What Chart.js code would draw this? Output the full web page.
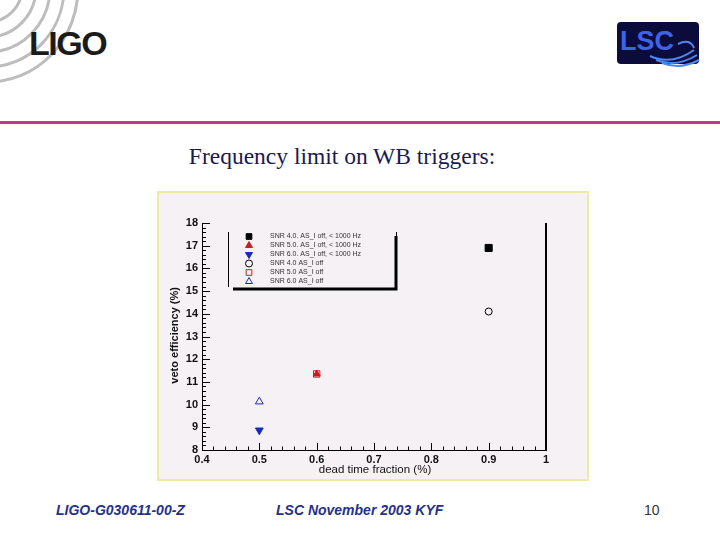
<!DOCTYPE html>
<html>
<head>
<meta charset="utf-8">
<script src="https://cdn.jsdelivr.net/npm/chart.js@4/dist/chart.umd.min.js"></script>
<style>
  html, body { margin: 0; padding: 0; background: #fff; }
  #slide { position: relative; width: 720px; height: 540px; overflow: hidden; font-family: "Liberation Sans", Arial, sans-serif; }
  #rule { position: absolute; left: 0; top: 121px; width: 720px; height: 3px; background: #c4368c; }
  #title { position: absolute; left: 0; width: 684px; top: 143px; text-align: center; font-family: "Liberation Serif", "Times New Roman", serif; font-size: 23.5px; color: #1a1a50; }
  #box { position: absolute; left: 157px; top: 191px; width: 428px; height: 286px; border: 2px solid #efe9a6; background: #f6f1f5; }
  #box canvas { position: absolute; left: 0; top: 0; }
  .foot { position: absolute; top: 502px; font-size: 14px; font-style: italic; font-weight: bold; color: #24318c; }
  #page { position: absolute; top: 502px; left: 644px; font-size: 14px; color: #333; }
</style>
</head>
<body>
<div id="slide">
  <svg width="720" height="120" style="position:absolute;left:0;top:0">
    <g fill="none" stroke="#bdbdbd" stroke-width="3">
      <ellipse cx="-12" cy="-12" rx="34" ry="34"/>
      <ellipse cx="-12" cy="-12" rx="48" ry="49"/>
      <ellipse cx="-12" cy="-12" rx="62" ry="64"/>
      <ellipse cx="-12" cy="-12" rx="76" ry="79"/>
      <ellipse cx="-12" cy="-12" rx="90" ry="94"/>
    </g>
    <text x="29" y="55" font-family="Liberation Sans Narrow, Liberation Sans, Arial" font-weight="bold" font-size="34" fill="#1b1b1b" letter-spacing="-1.5">LIGO</text>
    <rect x="617" y="22" width="82" height="42" rx="4" fill="#0b0b3c"/>
    <text x="620" y="50" font-family="Liberation Sans, Arial" font-weight="bold" font-size="27" fill="#3f63e6">LSC</text>
    <g fill="none" stroke="#4c86f0" stroke-width="2">
      <path d="M650 56 Q672 66 694 50"/>
      <path d="M656 60 Q676 68 697 55"/>
      <path d="M662 63 Q680 70 699 60"/>
      <path d="M678 44 Q690 38 694 48"/>
    </g>
  </svg>
  <div id="rule"></div>
  <div id="title">Frequency limit on WB triggers:</div>
  <div id="box"><canvas id="veto" width="428" height="286"></canvas></div>
  <div class="foot" style="left:56px">LIGO-G030611-00-Z</div>
  <div class="foot" style="left:276px">LSC November 2003 KYF</div>
  <div id="page">10</div>
</div>
<script>
// values
const seriesLabels = [
  'SNR 4.0. AS_I off, < 1000 Hz',
  'SNR 5.0. AS_I off, < 1000 Hz',
  'SNR 6.0. AS_I off, < 1000 Hz',
  'SNR 4.0 AS_I off',
  'SNR 5.0 AS_I off',
  'SNR 6.0 AS_I off'
];
const deadTime = [0.9, 0.6, 0.5, 0.9, 0.6, 0.5];
const vetoEff = [16.9, 11.35, 8.87, 14.1, 11.35, 10.13];
const xTicks = [0.4, 0.5, 0.6, 0.7, 0.8, 0.9, 1];
const yTicks = [8, 9, 10, 11, 12, 13, 14, 15, 16, 17, 18];

const markers = [
  { style: 'rect', rot: 0, color: '#000', fill: true, r: 5 },
  { style: 'triangle', rot: 0, color: '#c81e1e', fill: true, r: 4 },
  { style: 'triangle', rot: 180, color: '#1a2ab8', fill: true, r: 4.5 },
  { style: 'circle', rot: 0, color: '#000', fill: false, r: 3.5 },
  { style: 'rect', rot: 0, color: '#c81e1e', fill: false, r: 4.5 },
  { style: 'triangle', rot: 0, color: '#1a2ab8', fill: false, r: 4.5 }
];

const datasets = seriesLabels.map((label, i) => ({
  label: label,
  data: [{ x: deadTime[i], y: vetoEff[i] }],
  pointStyle: markers[i].style,
  rotation: markers[i].rot,
  pointRadius: markers[i].r,
  borderColor: markers[i].color,
  backgroundColor: markers[i].fill ? markers[i].color : 'rgba(0,0,0,0)',
  borderWidth: 1
}));

const frame = {
  id: 'frame',
  afterDraw(chart) {
    const ctx = chart.ctx;
    const xs = chart.scales.x, ys = chart.scales.y;
    const L = xs.left, R = xs.right, T = ys.top, B = ys.bottom;
    ctx.save();
    ctx.strokeStyle = '#000';
    ctx.lineWidth = 1;
    ctx.beginPath();
    ctx.moveTo(L + 0.5, T); ctx.lineTo(L + 0.5, B + 0.5); ctx.lineTo(R, B + 0.5);
    ctx.stroke();
    ctx.lineWidth = 2;
    ctx.beginPath();
    ctx.moveTo(R, T); ctx.lineTo(R, B + 1);
    ctx.stroke();
    ctx.lineWidth = 1;
    // x ticks
    ctx.beginPath();
    for (let k = 0; k <= 30; k++) {
      const v = 0.4 + k * 0.02;
      const px = Math.round(xs.getPixelForValue(v)) + 0.5;
      const len = k % 5 === 0 ? 7 : 3.5;
      ctx.moveTo(px, B); ctx.lineTo(px, B - len);
    }
    // y ticks
    for (let k = 0; k <= 50; k++) {
      const v = 8 + k * 0.2;
      const py = Math.round(ys.getPixelForValue(v)) + 0.5;
      const len = k % 5 === 0 ? 8 : 4;
      ctx.moveTo(L, py); ctx.lineTo(L + len, py);
    }
    ctx.stroke();

    // axis titles
    ctx.fillStyle = '#111';
    ctx.font = '11.5px "Liberation Sans", Arial';
    ctx.textAlign = 'center';
    ctx.textBaseline = 'middle';
    ctx.fillText('dead time fraction (%)', (L + R) / 2 + 1, B + 20);
    ctx.save();
    ctx.translate(L - 27, ys.getPixelForValue(13.05));
    ctx.rotate(-Math.PI / 2);
    ctx.font = 'bold 11px "Liberation Sans", Arial';
    ctx.fillText('veto efficiency (%)', 0, 0);
    ctx.restore();

    // legend box
    const lx = L + 26, ly = T + 9, lw = 168, lh = 55;
    ctx.beginPath();
    ctx.moveTo(lx + 0.5, ly); ctx.lineTo(lx + 0.5, ly + lh);
    ctx.moveTo(lx + lw + 0.5, ly); ctx.lineTo(lx + lw + 0.5, ly + 4);
    ctx.stroke();
    ctx.lineWidth = 3;
    ctx.beginPath();
    ctx.moveTo(lx + lw, ly + 4); ctx.lineTo(lx + lw, ly + lh + 2);
    ctx.lineTo(lx + 5, ly + lh + 2);
    ctx.stroke();
    ctx.lineWidth = 1;
    ctx.font = '7px "Liberation Sans", Arial';
    ctx.textAlign = 'left';
    chart.data.datasets.forEach((ds, i) => {
      const yy = ly + 4.5 + i * 9;
      ctx.strokeStyle = ds.borderColor;
      ctx.fillStyle = ds.backgroundColor;
      Chart.helpers.drawPoint(ctx, { pointStyle: ds.pointStyle, rotation: ds.rotation, radius: Math.min(ds.pointRadius, 4), borderWidth: 1 }, lx + 21, yy);
      ctx.fillStyle = '#333';
      ctx.fillText(ds.label, lx + 42, yy);
    });
    ctx.restore();
  }
};

new Chart(document.getElementById('veto'), {
  type: 'scatter',
  data: { datasets: datasets },
  options: {
    responsive: false,
    animation: false,
    devicePixelRatio: 1,
    layout: { padding: { left: 0, top: 30, right: 41, bottom: 0 } },
    plugins: { legend: { display: false }, tooltip: { enabled: false } },
    scales: {
      x: {
        type: 'linear', min: 0.4, max: 1,
        afterFit: s => { s.height = 29; },
        afterBuildTicks: s => { s.ticks = xTicks.map(v => ({ value: v })); },
        grid: { display: false, drawTicks: false },
        border: { display: false },
        ticks: {
          padding: 3, color: '#111', maxRotation: 0, autoSkip: false,
          font: { family: '"Liberation Sans", Arial', size: 11, weight: 'bold' },
          callback: v => String(Number(v.toFixed(1)))
        }
      },
      y: {
        type: 'linear', min: 8, max: 18,
        afterFit: s => { s.width = 43; },
        afterBuildTicks: s => { s.ticks = yTicks.map(v => ({ value: v })); },
        grid: { display: false, drawTicks: false },
        border: { display: false },
        ticks: {
          padding: 4, color: '#111', autoSkip: false,
          font: { family: '"Liberation Sans", Arial', size: 11, weight: 'bold' }
        }
      }
    }
  },
  plugins: [frame]
});
</script>
</body>
</html>
